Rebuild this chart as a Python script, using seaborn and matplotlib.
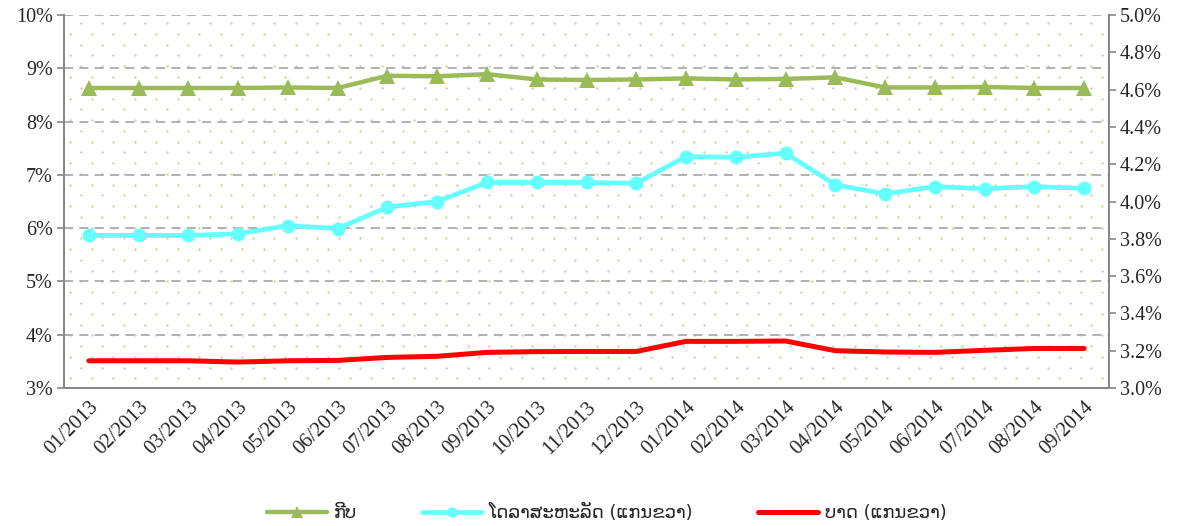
import numpy as np
import pandas as pd
import matplotlib
matplotlib.use("Agg")
import matplotlib.pyplot as plt
from matplotlib.ticker import FuncFormatter, FixedLocator
import seaborn as sns

# ------------------------------
# Data
# ------------------------------
months = ["01/2013", "02/2013", "03/2013", "04/2013", "05/2013", "06/2013",
          "07/2013", "08/2013", "09/2013", "10/2013", "11/2013", "12/2013",
          "01/2014", "02/2014", "03/2014", "04/2014", "05/2014", "06/2014",
          "07/2014", "08/2014", "09/2014"]

# kip, left axis (%)
kip = [8.63, 8.63, 8.63, 8.63, 8.64, 8.63, 8.86, 8.85, 8.89, 8.79, 8.78,
       8.79, 8.81, 8.79, 8.80, 8.83, 8.64, 8.64, 8.65, 8.63, 8.63]
# US dollar, right axis (%)
usd = [3.818, 3.818, 3.818, 3.827, 3.871, 3.855, 3.970, 4.000, 4.102, 4.102,
       4.102, 4.098, 4.241, 4.237, 4.259, 4.089, 4.041, 4.080, 4.068, 4.080,
       4.070]
# baht, right axis (%)
thb = [3.146, 3.146, 3.146, 3.139, 3.146, 3.148, 3.164, 3.170, 3.191, 3.195,
       3.196, 3.196, 3.250, 3.250, 3.252, 3.200, 3.193, 3.191, 3.202, 3.212,
       3.212]

labels = ["ກີບ", "ໂດລາສະຫະລັດ (ແກນຂວາ)", "ບາດ (ແກນຂວາ)"]
colors = ["#9BBB59", "#66FFFF", "#FF0000"]

df = pd.DataFrame({"month": months, "kip": kip, "usd": usd, "thb": thb})
df["pos"] = np.arange(len(df))

sns.set_style("white")
plt.rcParams["font.family"] = ["Liberation Serif", "DejaVu Serif"]

W, H = 1181, 526
x0, x1, y0, y1 = 64, 1109, 15, 388   # plot area in pixels
fig = plt.figure(figsize=(W / 100, H / 100), dpi=100)
ax = fig.add_axes([x0 / W, 1 - y1 / H, (x1 - x0) / W, (y1 - y0) / H])
ax2 = ax.twinx()

# dotted background pattern (staggered rows), purely decorative
aw, ah = x1 - x0, y1 - y0
dx, dy = 21.5, 10.76
dots = []
for r, yy in enumerate(np.arange(9.7, ah, dy)):
    start = 6.0 if r % 2 == 0 else 6.0 + dx / 2
    for xx in np.arange(start, aw, dx):
        dots.append((xx / aw, yy / ah))
dots = np.array(dots)
ax.scatter(dots[:, 0], dots[:, 1], s=3.2, color="#d6d1ae", linewidths=0,
           transform=ax.transAxes, zorder=0, clip_on=True)

sns.lineplot(data=df, x="pos", y="kip", ax=ax, color=colors[0], lw=3.2,
             marker="^", markersize=11, markeredgewidth=0, label=labels[0],
             legend=False, zorder=3)
sns.lineplot(data=df, x="pos", y="usd", ax=ax2, color=colors[1], lw=3.4,
             marker="o", markersize=10, markeredgewidth=0, label=labels[1],
             legend=False, zorder=3)
sns.lineplot(data=df, x="pos", y="thb", ax=ax2, color=colors[2], lw=3.6,
             label=labels[2], legend=False, zorder=3, solid_capstyle="round")

n = len(months)
ax.set_xlim(-0.5, n - 0.5)
ax.set_ylim(3, 10)
ax2.set_ylim(3.0, 5.0)

# x ticks: marks at boundaries, labels at centres
ax.xaxis.set_major_locator(FixedLocator(np.arange(n + 1) - 0.5))
ax.xaxis.set_minor_locator(FixedLocator(np.arange(n)))
ax.set_xticklabels([], minor=False)
ax.set_xticklabels(months, minor=True, rotation=45, ha="right",
                   rotation_mode="anchor", fontsize=14.8)
ax.tick_params(axis="x", which="major", length=6, width=1.2, color="#868686",
               direction="out")
ax.tick_params(axis="x", which="minor", length=0, pad=7)

ax.set_yticks(np.arange(3, 11, 1))
ax.yaxis.set_major_formatter(FuncFormatter(lambda v, p: f"{v:.0f}%"))
ax.tick_params(axis="y", length=5, width=1.2, color="#868686", labelsize=14.5,
               pad=3, direction="out")
ax2.set_yticks(np.arange(3.0, 5.01, 0.2))
ax2.yaxis.set_major_formatter(FuncFormatter(lambda v, p: f"{v:.1f}%"))
ax2.tick_params(axis="y", length=5, width=1.2, color="#868686", labelsize=14.5,
                pad=3, direction="out")

ax.grid(axis="y", color="#ababab", linestyle=(0, (5, 3.5)), linewidth=1.3,
        zorder=1)
ax.set_axisbelow(True)

for a in (ax, ax2):
    a.set_xlabel("")
    a.set_ylabel("")
    a.spines["top"].set_visible(False)
    for s in ("left", "right", "bottom"):
        a.spines[s].set_color("#868686")
        a.spines[s].set_linewidth(1.3)

h1, l1 = ax.get_legend_handles_labels()
h2, l2 = ax2.get_legend_handles_labels()
fig.legend(h1 + h2, l1 + l2, loc="center", ncol=3,
           bbox_to_anchor=(607 / W, 1 - 513 / H), frameon=False,
           handlelength=3.3, columnspacing=3.6, handletextpad=0.4,
           prop={"family": ["DejaVu Sans"], "size": 13}, markerscale=0.75)

fig.savefig("out.png", dpi=100)
